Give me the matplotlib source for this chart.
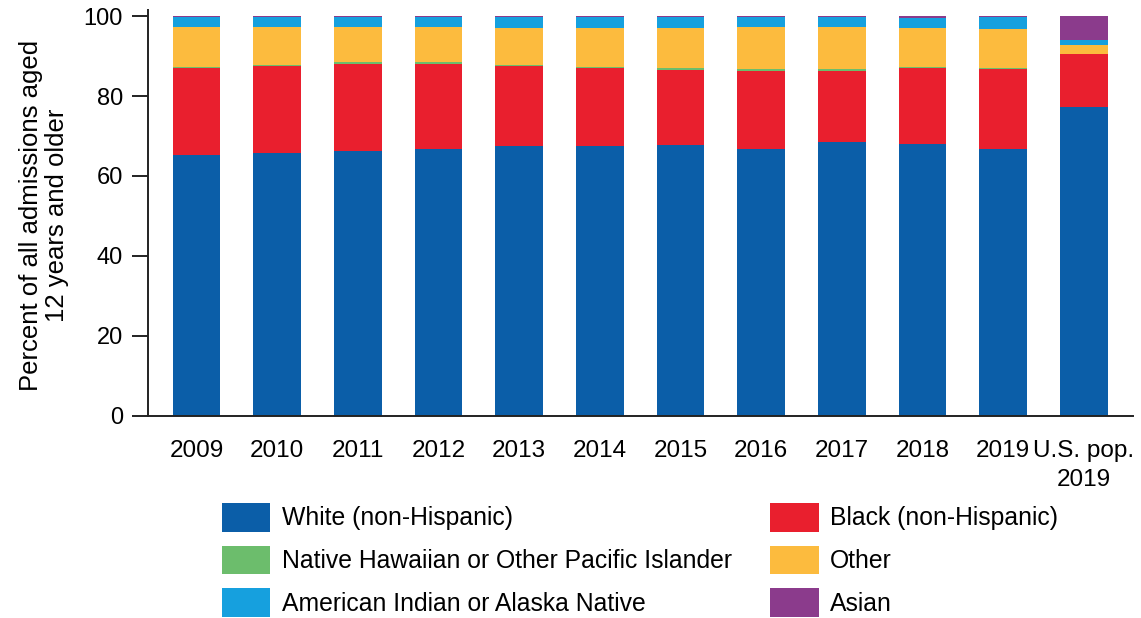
'''
Admissions aged 12+ by race, 2009-2019, vs U.S. population
'''
import numpy as np
import matplotlib.pyplot as plt

plt.rcParams['font.family'] = ['Liberation Sans', 'DejaVu Sans']

categories = ['2009', '2010', '2011', '2012', '2013', '2014', '2015',
              '2016', '2017', '2018', '2019', 'U.S. pop.\n2019']

white = [65.2, 65.8, 66.3, 66.8, 67.5, 67.5, 67.8, 66.8, 68.4, 68.0, 66.8, 77.3]
black = [21.7, 21.7, 21.6, 21.1, 20.0, 19.4, 18.7, 19.5, 17.9, 18.9, 20.0, 13.1]
nhpi = [0.4, 0.3, 0.5, 0.5, 0.3, 0.4, 0.4, 0.4, 0.5, 0.4, 0.3, 0.2]
other = [10.0, 9.5, 8.9, 8.9, 9.3, 9.6, 10.0, 10.5, 10.4, 9.8, 9.6, 2.1]
aian = [2.5, 2.5, 2.5, 2.5, 2.7, 2.9, 2.9, 2.6, 2.6, 2.4, 3.1, 1.2]
asian = [0.2, 0.2, 0.2, 0.2, 0.2, 0.2, 0.2, 0.2, 0.2, 0.5, 0.2, 6.1]

series = [
    ('White (non-Hispanic)', white, '#0b5ea8'),
    ('Black (non-Hispanic)', black, '#e91f2e'),
    ('Native Hawaiian or Other Pacific Islander', nhpi, '#6cbd6c'),
    ('Other', other, '#fcbb3e'),
    ('American Indian or Alaska Native', aian, '#16a0de'),
    ('Asian', asian, '#8b3b8c'),
]

fig = plt.figure(figsize=(11.41, 6.18), dpi=100)
ax = fig.add_axes([0.1297, 0.3269, 0.9930 - 0.1297, 0.9838 - 0.3269])

x = np.arange(len(categories))
bottom = np.zeros(len(categories))
handles = {}
for name, vals, color in series:
    b = ax.bar(x, vals, width=0.59, bottom=bottom, color=color, label=name)
    handles[name] = b
    bottom += np.array(vals)

ax.set_xlim(-0.6, 11.61)
ax.set_ylim(0, 101.5)
ax.set_yticks([0, 20, 40, 60, 80, 100])
ax.set_xticks(x)
ax.set_xticklabels(categories, linespacing=1.45)

for s in ['top', 'right']:
    ax.spines[s].set_visible(False)
for s in ['left', 'bottom']:
    ax.spines[s].set_linewidth(1.4)
    ax.spines[s].set_color('#222222')

ax.tick_params(axis='y', length=11.5, width=1.4, pad=6.5, labelsize=17, color='#222222')
ax.tick_params(axis='x', length=0, pad=17, labelsize=17.5)

fig.text(44 / 1141, 1 - 215 / 618, 'Percent of all admissions aged\n12 years and older',
         rotation=90, ha='center', va='center', fontsize=18.5, linespacing=1.1)

# legend: column-wise fill, two columns
order = ['White (non-Hispanic)', 'Native Hawaiian or Other Pacific Islander',
         'American Indian or Alaska Native', 'Black (non-Hispanic)', 'Other', 'Asian']
fig.legend([handles[k] for k in order], order, ncol=2, frameon=False,
           loc='upper left', bbox_to_anchor=(222 / 1141, 1 - 503 / 618),
           borderpad=0, borderaxespad=0, fontsize=17.8,
           handlelength=1.96, handleheight=1.4, labelspacing=0.57,
           handletextpad=0.45, columnspacing=1.56)

fig.savefig('out.png', dpi=100)
